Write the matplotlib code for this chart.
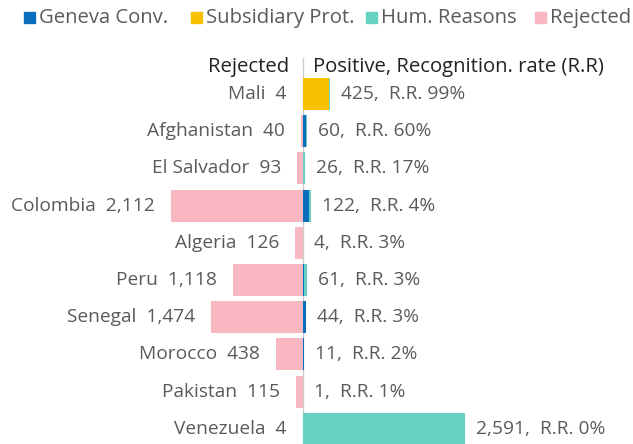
import matplotlib.pyplot as plt
from matplotlib.patches import Rectangle

plt.rcParams['font.family'] = ['Open Sans', 'DejaVu Sans']

# data
countries = ["Mali", "Afghanistan", "El Salvador", "Colombia", "Algeria",
             "Peru", "Senegal", "Morocco", "Pakistan", "Venezuela"]
rejected = [4, 40, 93, 2112, 126, 1118, 1474, 438, 115, 4]
geneva = [3, 50, 5, 95, 3, 22, 40, 9, 1, 2]
subsidiary = [420, 2, 1, 2, 0, 1, 2, 1, 0, 1]
humanitarian = [2, 8, 20, 25, 1, 38, 2, 1, 0, 2588]
positive = [425, 60, 26, 122, 4, 61, 44, 11, 1, 2591]
rate = [99, 60, 17, 4, 3, 3, 3, 2, 1, 0]

c_gen = "#0a6ebd"
c_sub = "#f6c200"
c_hum = "#66d2c2"
c_rej = "#f8b7c1"
txt = "#5a5a5a"

fig = plt.figure(figsize=(6.33, 4.44), dpi=100)
ax = fig.add_axes([0, 0, 1, 1])
ax.set_axis_off()

px = 0.0625  # pixels per unit
ax.set_xlim(-303 / px, 330 / px)
ax.set_ylim((444 - 94) / 37.2, -94 / 37.2)

y = list(range(len(countries)))
h = 0.86
ax.barh(y, [-r for r in rejected], height=h, color=c_rej)
ax.barh(y, geneva, height=h, color=c_gen)
left2 = geneva
ax.barh(y, subsidiary, left=left2, height=h, color=c_sub)
left3 = [g + s for g, s in zip(geneva, subsidiary)]
ax.barh(y, humanitarian, left=left3, height=h, color=c_hum)

ax.plot([0, 0], [-0.98, 9.5], color="#cccccc", lw=1, zorder=0)

fs = 13.8
for i in y:
    ax.annotate(f"{countries[i]}  {rejected[i]:,}", (-rejected[i], i),
                xytext=(-11.5, 0), textcoords="offset points",
                ha="right", va="center", fontsize=fs, color=txt)
    ax.annotate(f"{positive[i]:,},  R.R. {rate[i]}%", (positive[i], i),
                xytext=(8, 0), textcoords="offset points",
                ha="left", va="center", fontsize=fs, color=txt)

ax.text(-14 / px, -0.73, "Rejected", ha="right", va="center",
        fontsize=14.6, color="#222222")
ax.text(10 / px, -0.73, "Positive, Recognition. rate (R.R)", ha="left",
        va="center", fontsize=14.6, color="#222222")

# legend
W, H = 633, 444
items = [("Geneva Conv.", c_gen, 24), ("Subsidiary Prot.", c_sub, 191),
         ("Hum. Reasons", c_hum, 366), ("Rejected", c_rej, 535)]
for label, col, x0 in items:
    fig.patches.append(Rectangle((x0 / W, 1 - 23 / H), 11 / W, 11 / H,
                                 transform=fig.transFigure, color=col))
    fig.text((x0 + 15) / W, 1 - 18 / H, label, ha="left", va="center",
             fontsize=14.6, color=txt)

fig.savefig("out.png", dpi=100)
